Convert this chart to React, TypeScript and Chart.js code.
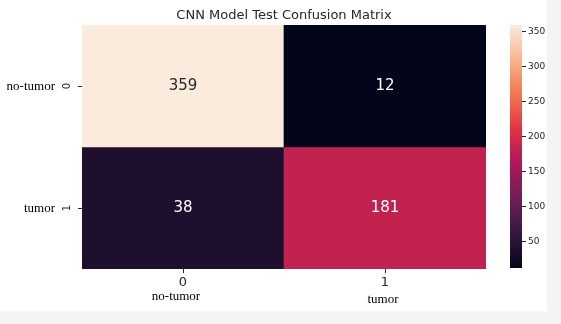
import React, { useEffect, useRef } from 'react';
import { Chart, registerables } from 'chart.js';

Chart.register(...registerables);

const titleText = 'CNN Model Test Confusion Matrix';
const rowLabels = ['0', '1'];
const colLabels = ['0', '1'];
const classNames = ['no-tumor', 'tumor'];
const row0Values = [359, 12];
const row1Values = [38, 181];
const colorbarTicks = [50, 100, 150, 200, 250, 300, 350];

const rows = [row0Values, row1Values];
const allValues = [...row0Values, ...row1Values];
const vmin = Math.min(...allValues);
const vmax = Math.max(...allValues);

// seaborn "rocket" colormap stops
const rocketStops: [number, string][] = [
  [0, '#03051a'],
  [1 / 7, '#35193e'],
  [2 / 7, '#701f57'],
  [3 / 7, '#ad1759'],
  [4 / 7, '#e13342'],
  [5 / 7, '#f37651'],
  [6 / 7, '#f6b48f'],
  [1, '#faebdd'],
];

function hexToRgb(h: string): number[] {
  return [1, 3, 5].map((i) => parseInt(h.slice(i, i + 2), 16));
}

function rocket(t: number): string {
  const tt = Math.max(0, Math.min(1, t));
  for (let i = 0; i < rocketStops.length - 1; i++) {
    const [p0, c0] = rocketStops[i];
    const [p1, c1] = rocketStops[i + 1];
    if (tt >= p0 && tt <= p1) {
      const f = (tt - p0) / (p1 - p0);
      const a = hexToRgb(c0);
      const b = hexToRgb(c1);
      const c = a.map((v, k) => Math.round(v + (b[k] - v) * f));
      return `rgb(${c[0]},${c[1]},${c[2]})`;
    }
  }
  return rocketStops[rocketStops.length - 1][1];
}

const norm = (v: number) => (v - vmin) / (vmax - vmin);

const TEXT = '#262626';

const annotatePlugin = {
  id: 'annotate',
  afterDatasetsDraw(chart: any) {
    const ctx = chart.ctx;
    ctx.save();
    ctx.font = '15px "DejaVu Sans"';
    ctx.textAlign = 'center';
    ctx.textBaseline = 'middle';
    rows.forEach((vals, r) => {
      const meta = chart.getDatasetMeta(r);
      meta.data.forEach((el: any, c: number) => {
        const { x, y, base } = el.getProps(['x', 'y', 'base'], true);
        const v = vals[c];
        ctx.fillStyle = norm(v) > 0.6 ? TEXT : '#ffffff';
        ctx.fillText(String(v), x, (y + base) / 2);
      });
    });
    ctx.restore();
  },
};

const xNameOffsets = [[-7, 28], [-2, 31]];

const classNamePlugin = {
  id: 'classNames',
  afterDraw(chart: any) {
    const ctx = chart.ctx;
    const xs = chart.scales.x;
    const ys = chart.scales.y;
    ctx.save();
    ctx.font = '13px "Liberation Serif"';
    ctx.fillStyle = '#000000';
    ctx.textBaseline = 'middle';
    ctx.textAlign = 'right';
    classNames.forEach((n, i) => {
      ctx.fillText(n, ys.left + ys.width - 27, ys.getPixelForValue(i + 0.5) + 1);
    });
    ctx.textAlign = 'center';
    classNames.forEach((n, i) => {
      const [dx, dy] = xNameOffsets[i];
      ctx.fillText(n, xs.getPixelForValue(i) + dx, chart.chartArea.bottom + dy);
    });
    ctx.restore();
  },
};

export default function App() {
  const mainRef = useRef<HTMLCanvasElement>(null);
  const cbRef = useRef<HTMLCanvasElement>(null);

  useEffect(() => {
    if (!mainRef.current || !cbRef.current) return;
    const main = new Chart(mainRef.current, {
      type: 'bar',
      data: {
        labels: colLabels,
        datasets: rows.map((vals, r) => ({
          label: rowLabels[r],
          data: vals.map(() => [r, r + 1]),
          backgroundColor: vals.map((v) => rocket(norm(v))),
          borderWidth: 0,
          barPercentage: 1,
          categoryPercentage: 1,
          grouped: false,
        })) as any,
      },
      options: {
        animation: false,
        responsive: false,
        layout: { padding: { left: 0, right: 14, top: 0, bottom: 0 } },
        plugins: {
          legend: { display: false },
          tooltip: { enabled: false },
          title: {
            display: true,
            text: titleText,
            fullSize: false,
            color: TEXT,
            font: { family: 'DejaVu Sans', size: 13, weight: 'normal', lineHeight: 1.2 },
            padding: { top: 8, bottom: 1.4 },
          },
        },
        scales: {
          x: {
            type: 'category',
            offset: true,
            grid: { offset: false, drawOnChartArea: false, drawTicks: true, tickLength: 4, color: TEXT },
            border: { display: false },
            ticks: {
              color: TEXT,
              font: { family: 'DejaVu Sans', size: 13 },
              padding: 2,
              maxRotation: 0,
              autoSkip: false,
            },
            afterFit: (s: any) => {
              s.height = 42;
            },
          },
          y: {
            type: 'linear',
            min: 0,
            max: 2,
            reverse: true,
            grid: { drawOnChartArea: false, drawTicks: true, tickLength: 4, color: TEXT },
            border: { display: false },
            afterBuildTicks: (s: any) => {
              s.ticks = rowLabels.map((_, i) => ({ value: i + 0.5 }));
            },
            ticks: {
              color: TEXT,
              font: { family: 'DejaVu Sans', size: 10 },
              padding: 7,
              minRotation: 90,
              maxRotation: 90,
              crossAlign: 'center',
              callback: (v: any) => rowLabels[Math.floor(Number(v))],
            },
            afterFit: (s: any) => {
              s.width = 82;
            },
          },
        },
      } as any,
      plugins: [annotatePlugin, classNamePlugin],
    });

    const cb = new Chart(cbRef.current, {
      type: 'bar',
      data: {
        labels: [''],
        datasets: [
          {
            data: [[vmin, vmax]] as any,
            backgroundColor: (c: any) => {
              const chart = c.chart;
              const ys = chart.scales.y;
              if (!chart.chartArea || !ys) return '#000';
              const g = chart.ctx.createLinearGradient(0, ys.getPixelForValue(vmin), 0, ys.getPixelForValue(vmax));
              rocketStops.forEach(([p, col]) => g.addColorStop(p, col));
              return g;
            },
            borderWidth: 0,
            barPercentage: 1,
            categoryPercentage: 1,
          },
        ],
      },
      options: {
        animation: false,
        responsive: false,
        layout: { padding: { left: 10, right: 0, top: 25, bottom: 43 } },
        plugins: { legend: { display: false }, tooltip: { enabled: false } },
        scales: {
          x: { display: false },
          y: {
            type: 'linear',
            position: 'right',
            min: vmin,
            max: vmax,
            grid: { drawOnChartArea: false, drawTicks: true, tickLength: 4, color: TEXT },
            border: { display: false },
            afterBuildTicks: (s: any) => {
              s.ticks = colorbarTicks.map((v) => ({ value: v }));
            },
            ticks: {
              color: TEXT,
              font: { family: 'DejaVu Sans', size: 9 },
              padding: 2,
            },
            afterFit: (s: any) => {
              s.width = 25;
            },
          },
        },
      } as any,
    });

    return () => {
      main.destroy();
      cb.destroy();
    };
  }, []);

  return (
    <div style={{ position: 'fixed', left: 0, top: 0, right: 0, bottom: 0, background: '#f4f4f4' }}>
      <div style={{ position: 'absolute', left: 0, top: 0, width: 547, height: 311, background: '#ffffff' }}>
        <canvas ref={mainRef} width={500} height={311} style={{ position: 'absolute', left: 0, top: 0 }} />
        <canvas ref={cbRef} width={47} height={311} style={{ position: 'absolute', left: 500, top: 0 }} />
      </div>
    </div>
  );
}
